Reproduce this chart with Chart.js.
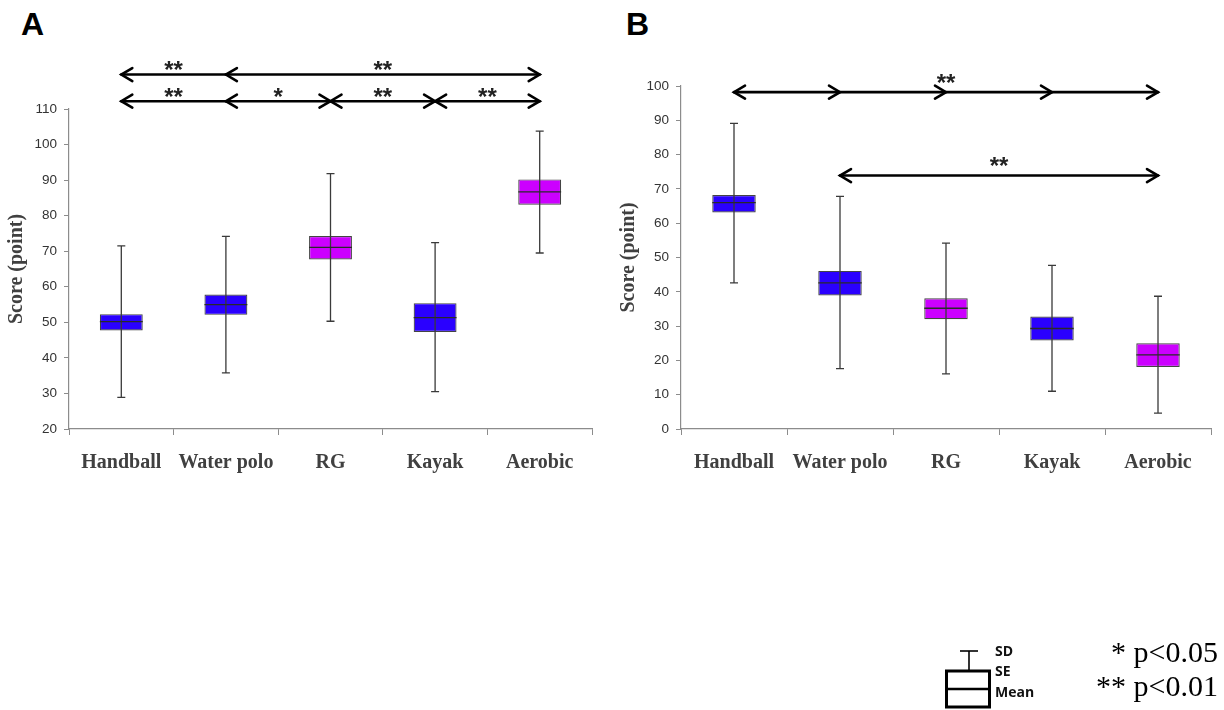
<!DOCTYPE html>
<html>
<head>
<meta charset="utf-8">
<script src="https://cdn.jsdelivr.net/npm/chart.js@4.4.1/dist/chart.umd.min.js"></script>
<style>
  html, body { margin:0; padding:0; background:#fff; }
  body { width:1224px; height:710px; position:relative; overflow:hidden; }
  .wrap { position:absolute; }
  .panel { position:absolute; font-family:'Liberation Sans', Arial, sans-serif; font-weight:bold; font-size:32px; color:#000; line-height:1; }
  .lg { position:absolute; font-family:'Open Sans','Liberation Sans',sans-serif; font-weight:bold; font-size:14px; color:#111; line-height:1; transform:translateY(-50%); }
  .pv { position:absolute; font-family:'Liberation Serif','Times New Roman',serif; font-size:30px; color:#000; line-height:1; transform:translateY(-50%); right:6px; white-space:nowrap; }
</style>
</head>
<body>
<div class="panel" style="left:21px; top:8px;">A</div>
<div class="panel" style="left:626px; top:8px;">B</div>

<div class="wrap" style="left:0; top:0; width:600px; height:480px;"><canvas id="chartA" width="600" height="480"></canvas></div>
<div class="wrap" style="left:612px; top:0; width:610px; height:480px;"><canvas id="chartB" width="610" height="480"></canvas></div>

<svg style="position:absolute; left:0; top:0;" width="1224" height="710">
  <line x1="969" y1="651" x2="969" y2="671" stroke="#000" stroke-width="1.6"/>
  <line x1="960" y1="651" x2="978" y2="651" stroke="#000" stroke-width="1.6"/>
  <rect x="946.5" y="671" width="43" height="36" fill="none" stroke="#000" stroke-width="3"/>
  <line x1="946.5" y1="689" x2="989.5" y2="689" stroke="#000" stroke-width="2.5"/>
</svg>
<div class="lg" style="left:995px; top:651px;">SD</div>
<div class="lg" style="left:995px; top:671px;">SE</div>
<div class="lg" style="left:995px; top:692px;">Mean</div>
<div class="pv" style="top:652px;">* p&lt;0.05</div>
<div class="pv" style="top:686px;">** p&lt;0.01</div>

<script>
// ---------- data ----------
const categories = ['Handball', 'Water polo', 'RG', 'Kayak', 'Aerobic'];

// Panel A
const aMean   = [50.2, 55.0, 71.1, 51.3, 86.7];
const aSeLow  = [47.7, 52.1, 67.7, 47.3, 83.1];
const aSeHigh = [52.3, 57.8, 74.3, 55.4, 90.2];
const aSdLow  = [28.9, 35.8, 50.3, 30.5, 69.5];
const aSdHigh = [71.5, 74.2, 91.8, 72.4, 103.8];
const aTickMin = 20, aTickMax = 110, aTickStep = 10;

// Panel B
const bMean   = [66.0, 42.6, 35.2, 29.3, 21.6];
const bSeLow  = [63.1, 38.9, 32.0, 25.8, 18.1];
const bSeHigh = [68.2, 46.1, 38.1, 32.8, 25.0];
const bSdLow  = [42.6, 17.6, 16.1, 11.0, 4.6];
const bSdHigh = [89.1, 67.8, 54.2, 47.7, 38.7];
const bTickMin = 0, bTickMax = 100, bTickStep = 10;

// group colour (blue / magenta)
const groupColor = ['#2a00ff', '#2a00ff', '#cc00ff', '#2a00ff', '#cc00ff'];

// significance arrows: from / to category index, level (score units), heads, label
const aSig = [
  { from: 0, to: 1, level: 119.7, left: true,  right: false, label: '**' },
  { from: 1, to: 4, level: 119.7, left: true,  right: true,  label: '**' },
  { from: 0, to: 1, level: 112.2, left: true,  right: false, label: '**' },
  { from: 1, to: 2, level: 112.2, left: true,  right: true,  label: '*'  },
  { from: 2, to: 3, level: 112.2, left: true,  right: true,  label: '**' },
  { from: 3, to: 4, level: 112.2, left: true,  right: true,  label: '**' }
];
const bSig = [
  { from: 0, to: 4, level: 98.2, left: true, right: true, mids: [1, 2, 3], label: '**' },
  { from: 1, to: 4, level: 73.9, left: true, right: true, label: '**' }
];

// ---------- plugins ----------
function boxExtras(mean, sdLow, sdHigh) {
  return {
    id: 'boxExtras',
    afterDatasetsDraw(chart) {
      const { ctx, scales: { x, y } } = chart;
      const meta = chart.getDatasetMeta(0);
      ctx.save();
      mean.forEach((m, i) => {
        const bar = meta.data[i];
        const cx = x.getPixelForValue(i);
        const half = bar.width / 2;
        const yTop = y.getPixelForValue(sdHigh[i]);
        const yBot = y.getPixelForValue(sdLow[i]);
        ctx.strokeStyle = '#3a3a3a';
        ctx.lineWidth = 1.3;
        ctx.beginPath();
        ctx.moveTo(cx, yTop); ctx.lineTo(cx, yBot);
        ctx.moveTo(cx - 4, yTop); ctx.lineTo(cx + 4, yTop);
        ctx.moveTo(cx - 4, yBot); ctx.lineTo(cx + 4, yBot);
        ctx.stroke();
        const ym = y.getPixelForValue(m);
        ctx.strokeStyle = '#2a2a2a';
        ctx.lineWidth = 1.3;
        ctx.beginPath();
        ctx.moveTo(cx - half, ym); ctx.lineTo(cx + half, ym);
        ctx.stroke();
      });
      ctx.restore();
    }
  };
}

function sigArrows(rows, starGap) {
  function head(ctx, x, y, dir) {
    ctx.beginPath();
    ctx.moveTo(x - dir * 11, y - 6.5);
    ctx.lineTo(x, y);
    ctx.lineTo(x - dir * 11, y + 6.5);
    ctx.stroke();
  }
  return {
    id: 'sigArrows',
    afterDraw(chart) {
      const { ctx, scales: { x, y } } = chart;
      ctx.save();
      ctx.strokeStyle = '#000';
      ctx.lineWidth = 2.6;
      ctx.lineCap = 'round';
      ctx.lineJoin = 'miter';
      rows.forEach(r => {
        const x1 = x.getPixelForValue(r.from);
        const x2 = x.getPixelForValue(r.to);
        const yy = y.getPixelForValue(r.level);
        ctx.beginPath();
        ctx.moveTo(x1, yy); ctx.lineTo(x2, yy);
        ctx.stroke();
        if (r.left) head(ctx, x1, yy, -1);
        if (r.right) head(ctx, x2, yy, 1);
        (r.mids || []).forEach(k => head(ctx, x.getPixelForValue(k), yy, 1));
        ctx.fillStyle = '#222';
        ctx.font = 'bold 24px "Liberation Sans", Arial, sans-serif';
        ctx.textAlign = 'center';
        ctx.textBaseline = 'alphabetic';
        ctx.fillText(r.label, (x1 + x2) / 2, yy - starGap + 13.5);
      });
      ctx.restore();
    }
  };
}

function makeChart(id, seLow, seHigh, mean, sdLow, sdHigh, tmin, tmax, tstep, sig, padTop, padRight, starGap) {
  const axisGray = '#8c8c8c';
  return new Chart(document.getElementById(id), {
    type: 'bar',
    data: {
      labels: categories,
      datasets: [{
        data: seLow.map((v, i) => [v, seHigh[i]]),
        backgroundColor: groupColor,
        borderColor: '#444',
        borderWidth: 1.2,
        borderSkipped: false,
        barPercentage: 0.41,
        categoryPercentage: 1.0
      }]
    },
    options: {
      responsive: false,
      animation: false,
      events: [],
      layout: { padding: { top: padTop, right: padRight, left: 0, bottom: 0 } },
      plugins: { legend: { display: false }, tooltip: { enabled: false } },
      scales: {
        x: {
          grid: { display: true, drawOnChartArea: false, drawTicks: true, tickLength: 6, color: axisGray, offset: true },
          border: { color: axisGray, width: 1.2 },
          ticks: { color: '#404040', padding: 16, maxRotation: 0,
                   font: { family: '"Liberation Serif", "Times New Roman", serif', size: 20, weight: 'bold' } },
          afterFit: s => { s.height = 51; }
        },
        y: {
          min: tmin, max: tmax,
          grid: { display: true, drawOnChartArea: false, drawTicks: true, tickLength: 5, color: axisGray },
          border: { color: axisGray, width: 1.2 },
          ticks: { stepSize: tstep, color: '#333', padding: 7,
                   font: { family: '"Liberation Sans", Arial, sans-serif', size: 13.5 } },
          title: { display: true, text: 'Score (point)', color: '#404040', padding: { top: 5, bottom: 0 },
                   font: { family: '"Liberation Serif", "Times New Roman", serif', size: 20, weight: 'bold' } },
          afterFit: s => { s.width = 69; }
        }
      }
    },
    plugins: [boxExtras(mean, sdLow, sdHigh), sigArrows(sig, starGap)]
  });
}

makeChart('chartA', aSeLow, aSeHigh, aMean, aSdLow, aSdHigh, aTickMin, aTickMax, aTickStep, aSig, 109, 8, 10);
makeChart('chartB', bSeLow, bSeHigh, bMean, bSdLow, bSdHigh, bTickMin, bTickMax, bTickStep, bSig, 86, 11, 15);
</script>
</body>
</html>
